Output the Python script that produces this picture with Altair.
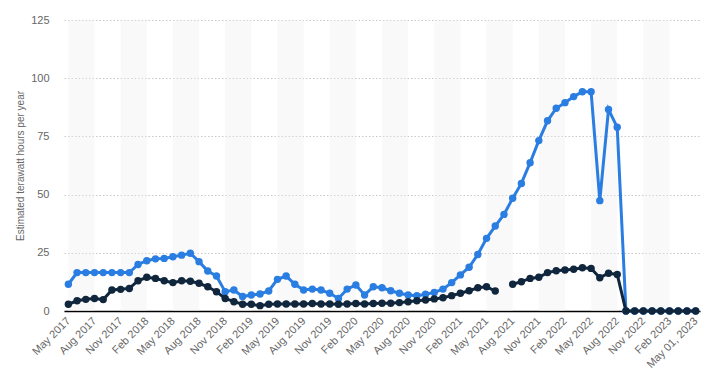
import json
import altair as alt
import pandas as pd

tick_labels = ["May 2017", "Aug 2017", "Nov 2017", "Feb 2018", "May 2018", "Aug 2018",
               "Nov 2018", "Feb 2019", "May 2019", "Aug 2019", "Nov 2019", "Feb 2020",
               "May 2020", "Aug 2020", "Nov 2020", "Feb 2021", "May 2021", "Aug 2021",
               "Nov 2021", "Feb 2022", "May 2022", "Aug 2022", "Nov 2022", "Feb 2023",
               "May 01, 2023"]

blue_values = [11.5, 16.5, 16.5, 16.5, 16.5, 16.5, 16.5, 16.5, 20.0, 21.6,
               22.4, 22.6, 23.3, 24.0, 24.8, 21.2, 17.2, 15.0, 8.3, 9.0,
               6.2, 6.9, 7.3, 8.6, 13.6, 15.0, 11.5, 9.0, 9.4, 9.0,
               7.6, 5.4, 9.4, 11.2, 6.9, 10.4, 10.0, 8.7, 7.6, 6.9,
               6.6, 7.2, 8.0, 9.4, 12.2, 15.5, 18.8, 24.3, 31.2, 36.5,
               41.5, 48.4, 54.8, 63.7, 73.2, 81.7, 87.1, 89.5, 92.1, 94.2,
               94.2, 47.4, 86.6, 78.9, 0, 0, 0, 0, 0, 0,
               0, 0, 0]

dark_values = [2.9, 4.4, 5.0, 5.4, 4.9, 9.0, 9.3, 9.7, 13.0, 14.5,
               14.0, 13.0, 12.2, 13.0, 12.8, 11.9, 10.4, 8.3, 5.4, 4.0,
               2.9, 2.9, 2.3, 2.9, 3.0, 3.0, 3.0, 3.0, 3.2, 3.0,
               3.0, 2.9, 3.0, 3.2, 3.0, 3.2, 3.3, 3.3, 3.6, 4.0,
               4.4, 4.7, 5.2, 5.7, 6.6, 7.6, 8.7, 10.0, 10.4, 8.6,
               None, 11.5, 12.6, 14.0, 14.5, 16.5, 17.3, 17.6, 17.9, 18.6,
               18.3, 14.3, 16.2, 15.7, 0, 0, 0, 0, 0, 0,
               0, 0, 0]

series_names = ["Series 1", "Series 2"]
series_colors = ["#2a7de1", "#10263d"]


def build(values, name):
    rows = []
    seg = 0
    for i, v in enumerate(values):
        if v is None:
            seg += 1
            continue
        rows.append({"i": i, "value": v, "series": name, "seg": seg})
    return pd.DataFrame(rows)


df_blue = build(blue_values, series_names[0])
df_dark = build(dark_values, series_names[1])

tick_idx = list(range(0, 3 * len(tick_labels), 3))
bands = pd.DataFrame({"start": tick_idx[::2][:-1]})
bands["end"] = bands["start"] + 3

label_expr = json.dumps(tick_labels) + "[round(datum.value / 3)]"

xscale = alt.Scale(domain=[-0.5, 72.5], nice=False, zero=False)
yscale = alt.Scale(domain=[0, 125], nice=False)

x_axis = alt.Axis(values=tick_idx, labelExpr=label_expr, labelAngle=-45,
                  ticks=False, grid=False, title=None, labelColor="#666666",
                  labelFontSize=11, labelPadding=8, domainColor="#000000",
                  domainWidth=1.5, labelFont="Liberation Sans",
                  labelOverlap=False, labelAlign="right", labelBaseline="middle",
                  labelBound=False)

y_axis = alt.Axis(values=[0, 25, 50, 75, 100, 125], title="Estimated terawatt hours per year",
                  domain=False, ticks=False, gridColor="#c8c8c8", gridDash=[1.5, 2],
                  labelColor="#666666", labelFontSize=11, labelPadding=15,
                  labelFont="Liberation Sans", titleFont="Liberation Sans",
                  titleFontSize=10, titleFontWeight="normal", titleColor="#666666",
                  titlePadding=5)

band_layer = alt.Chart(bands).mark_rect(color="#eeeeee", opacity=0.35).encode(
    x=alt.X("start:Q", scale=xscale, axis=x_axis),
    x2="end:Q",
    y=alt.value(0),
    y2=alt.value(291),
)


def series_layer(df, color):
    base = alt.Chart(df).encode(
        x=alt.X("i:Q", scale=xscale, axis=x_axis),
        y=alt.Y("value:Q", scale=yscale, axis=y_axis),
        detail="seg:N",
    )
    line = base.mark_line(color=color, strokeWidth=3)
    pts = base.mark_circle(color=color, size=55, opacity=1)
    return line + pts


chart = alt.layer(
    band_layer,
    series_layer(df_blue, series_colors[0]),
    series_layer(df_dark, series_colors[1]),
).properties(
    width=636, height=291,
    autosize=alt.AutoSizeParams(type="none"),
    padding={"left": 56, "top": 12, "right": 4, "bottom": 66},
).configure_view(stroke=None).configure_axisX(labelOverlap=False)

chart.save("out.html", embed_options={"renderer": "svg", "actions": False})
